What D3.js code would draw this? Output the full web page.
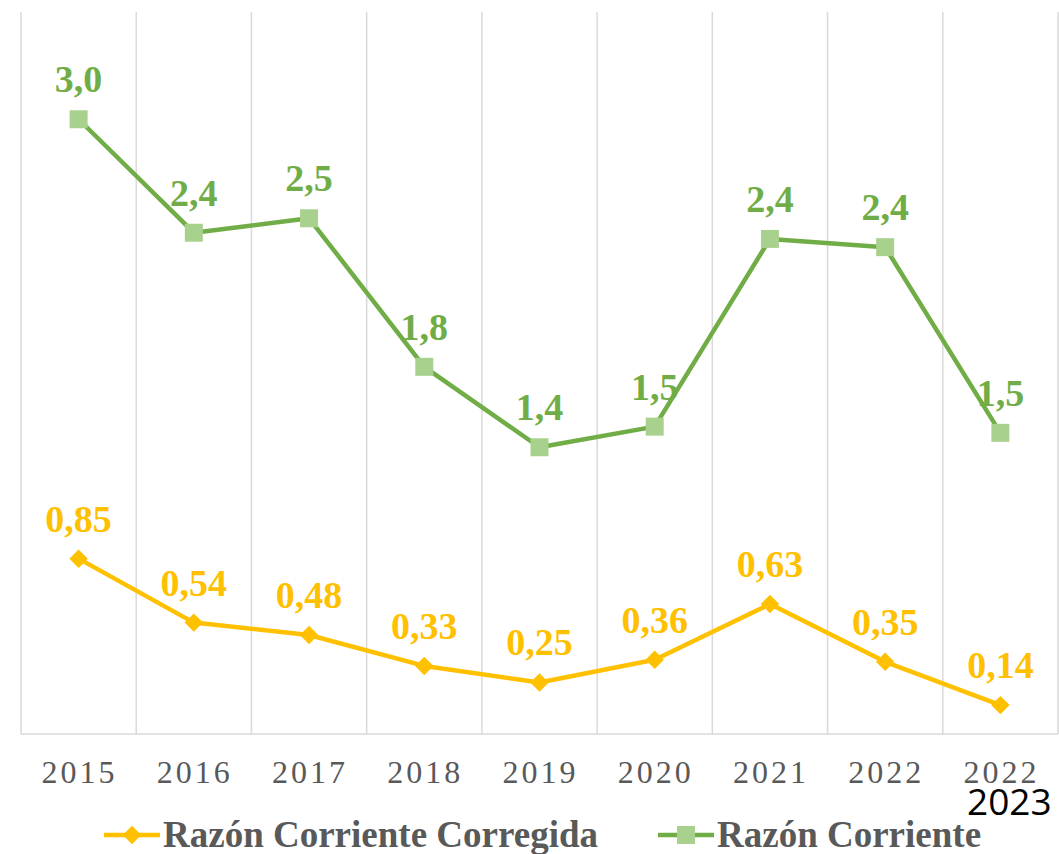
<!DOCTYPE html>
<html>
<head>
<meta charset="utf-8">
<script src="https://cdn.jsdelivr.net/npm/d3@7"></script>
<style>
  html, body { margin: 0; padding: 0; background: #fff; }
  svg { display: block; }
</style>
</head>
<body>
<svg id="chart"></svg>
<script>
// Categories and series
const years = ["2015", "2016", "2017", "2018", "2019", "2020", "2021", "2022", "2022"];
const razonCorriente = [2.98, 2.43, 2.50, 1.78, 1.39, 1.49, 2.40, 2.36, 1.46];
const razonCorregida = [0.85, 0.54, 0.48, 0.33, 0.25, 0.36, 0.63, 0.35, 0.14];
const overlayLabel = "2023";
const legendNames = ["Razón Corriente Corregida", "Razón Corriente"];

const W = 1059, H = 854;
const margin = { left: 21, right: 1, top: 12, bottom: 120 };
const GREEN = "#70ad47", GREEN_LIGHT = "#a9d18e", GOLD = "#ffc000";
const SERIF = "'Liberation Serif', 'Times New Roman', serif";

const svg = d3.select("#chart").attr("width", W).attr("height", H);

const x = d3.scaleBand()
  .domain(d3.range(years.length))
  .range([margin.left, W - margin.right]);
const y = d3.scaleLinear().domain([0, 3.5]).range([734, margin.top]);

const fmt1 = v => d3.format(".1f")(v).replace(".", ",");
const fmt2 = v => d3.format(".2f")(v).replace(".", ",");

// Vertical gridlines at band boundaries
const bounds = d3.range(years.length + 1).map(i => margin.left + i * x.bandwidth());
svg.append("g").selectAll("line")
  .data(bounds).join("line")
  .attr("x1", d => d).attr("x2", d => d)
  .attr("y1", y(3.5)).attr("y2", y(0))
  .attr("stroke", "#d9d9d9").attr("stroke-width", 1.5);

// Baseline
svg.append("line")
  .attr("x1", margin.left).attr("x2", W - margin.right)
  .attr("y1", y(0)).attr("y2", y(0))
  .attr("stroke", "#d9d9d9").attr("stroke-width", 1.5);

// Category labels
const xAxis = d3.axisBottom(x).tickSize(0).tickFormat(i => years[i]);
const gx = svg.append("g").attr("transform", `translate(0,${y(0)})`).call(xAxis);
gx.select(".domain").remove();
gx.selectAll("text")
  .attr("y", 0).attr("dy", 49).attr("dx", 1)
  .attr("font-family", SERIF).attr("font-size", 32)
  .attr("letter-spacing", "3px")
  .attr("fill", "#595959");

// "2023" overlay under last label
svg.append("text")
  .attr("x", x(years.length - 1) + x.bandwidth() / 2 + 9).attr("y", 815)
  .attr("text-anchor", "middle")
  .attr("font-family", "'Open Sans', 'Noto Sans', sans-serif").attr("font-size", 37)
  .attr("fill", "#000")
  .text(overlayLabel);

const cx = i => x(i) + x.bandwidth() / 2;
const line = d3.line().x((d, i) => cx(i)).y(d => y(d));

function drawSeries(values, color, markerFill, size, rot, fmt) {
  const g = svg.append("g");
  g.append("path").datum(values)
    .attr("d", line).attr("fill", "none")
    .attr("stroke", color).attr("stroke-width", 4.5).attr("stroke-linejoin", "round");
  g.selectAll("path.m").data(values).join("path")
    .attr("class", "m")
    .attr("d", d3.symbol().type(d3.symbolSquare).size(size))
    .attr("transform", (d, i) => `translate(${cx(i)},${y(d)}) rotate(${rot})`)
    .attr("fill", markerFill);
  g.selectAll("text").data(values).join("text")
    .attr("x", (d, i) => cx(i)).attr("y", d => y(d) - 27)
    .attr("text-anchor", "middle")
    .attr("font-family", SERIF).attr("font-weight", "bold").attr("font-size", 38)
    .attr("fill", color)
    .text(d => fmt(d));
}

drawSeries(razonCorriente, GREEN, GREEN_LIGHT, 324, 0, fmt1);
drawSeries(razonCorregida, GOLD, GOLD, 170, 45, fmt2);

// Legend
const legend = svg.append("g").attr("transform", "translate(0,835)");
const items = [
  { name: legendNames[0], color: GOLD, fill: GOLD, x0: 104, size: 170, rot: 45 },
  { name: legendNames[1], color: GREEN, fill: GREEN_LIGHT, x0: 658, size: 324, rot: 0 }
];
items.forEach(it => {
  legend.append("line")
    .attr("x1", it.x0).attr("x2", it.x0 + 56)
    .attr("stroke", it.color).attr("stroke-width", 4.5);
  legend.append("path")
    .attr("d", d3.symbol().type(d3.symbolSquare).size(it.size))
    .attr("transform", `translate(${it.x0 + 28},0) rotate(${it.rot})`)
    .attr("fill", it.fill);
  legend.append("text")
    .attr("x", it.x0 + 59).attr("y", 12)
    .attr("font-family", SERIF).attr("font-weight", "bold").attr("font-size", 37)
    .attr("fill", "#595959")
    .text(it.name);
});
</script>
</body>
</html>
